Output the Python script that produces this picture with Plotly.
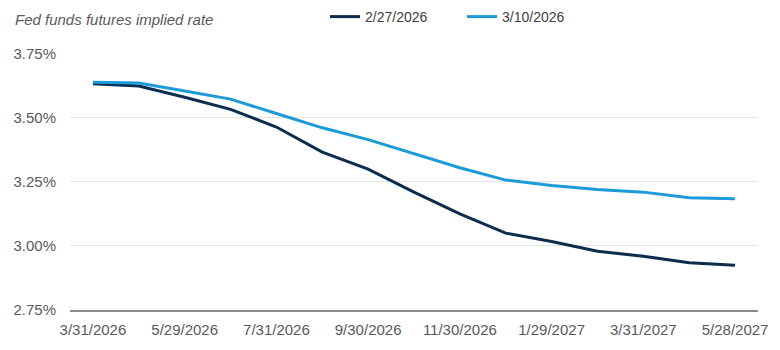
import plotly.graph_objects as go

# Contract month-end dates (monthly fed funds futures)
dates = [
    "3/31/2026", "4/30/2026", "5/29/2026", "6/30/2026", "7/31/2026",
    "8/31/2026", "9/30/2026", "10/30/2026", "11/30/2026", "12/31/2026",
    "1/29/2027", "2/26/2027", "3/31/2027", "4/30/2027", "5/28/2027",
]

# Implied rates (%) as of each pricing date
rates_0227 = [3.633, 3.624, 3.580, 3.533, 3.464, 3.366, 3.300, 3.210, 3.125,
              3.050, 3.017, 2.979, 2.960, 2.934, 2.925]
rates_0310 = [3.639, 3.636, 3.605, 3.573, 3.517, 3.461, 3.415, 3.360, 3.305,
              3.257, 3.236, 3.220, 3.210, 3.188, 3.184]

series_names = ["2/27/2026", "3/10/2026"]
series_colors = ["#0c2d4e", "#1b9bd7"]

y_ticks = [2.75, 3.00, 3.25, 3.50, 3.75]
y_tick_text = [f"{v:.2f}%" for v in y_ticks]
x_tick_labels = dates[::2]

font_family = "Liberation Sans, Arial, sans-serif"

fig = go.Figure()
for name, vals, color in zip(series_names, [rates_0227, rates_0310], series_colors):
    fig.add_trace(go.Scatter(
        x=dates, y=vals, name=name, mode="lines",
        line=dict(color=color, width=3),
        hoverinfo="skip",
    ))

fig.update_layout(
    width=780, height=350,
    margin=dict(l=70, r=21, t=47, b=40),
    paper_bgcolor="white", plot_bgcolor="white",
    font=dict(family=font_family, size=15, color="#595959"),
    title=dict(
        text="Fed funds futures implied rate",
        font=dict(family=font_family, size=15, color="#595959", style="italic"),
        x=15 / 780, xanchor="left", xref="container",
        y=1 - 20 / 350, yanchor="middle", yref="container",
        pad=dict(l=0, r=0, t=0, b=0),
    ),
    showlegend=True,
    legend=dict(
        orientation="h",
        x=325 / 780, xanchor="left", xref="container",
        y=1 - 17 / 350, yanchor="middle", yref="container",
        font=dict(family=font_family, size=14, color="#404040"),
        itemwidth=30, tracegroupgap=0,
        entrywidth=92, entrywidthmode="pixels",
        bgcolor="rgba(0,0,0,0)",
    ),
)

fig.update_xaxes(
    type="category",
    range=[-0.5, len(dates) - 0.5],
    tickmode="array", tickvals=x_tick_labels, ticktext=x_tick_labels,
    showgrid=False, ticks="",
    showline=True, linecolor="#8c8c8c", linewidth=1.5,
    tickfont=dict(family=font_family, size=15, color="#595959"),
    ticklabelstandoff=5,
    zeroline=False,
)
fig.update_yaxes(
    range=[2.75, 3.75],
    tickmode="array", tickvals=y_ticks, ticktext=y_tick_text,
    showgrid=True, gridcolor="#e3e3e3", gridwidth=1,
    showline=False, zeroline=False, ticks="",
    tickfont=dict(family=font_family, size=15, color="#595959"),
    ticklabelstandoff=13,
)

fig.write_html("out.html")
